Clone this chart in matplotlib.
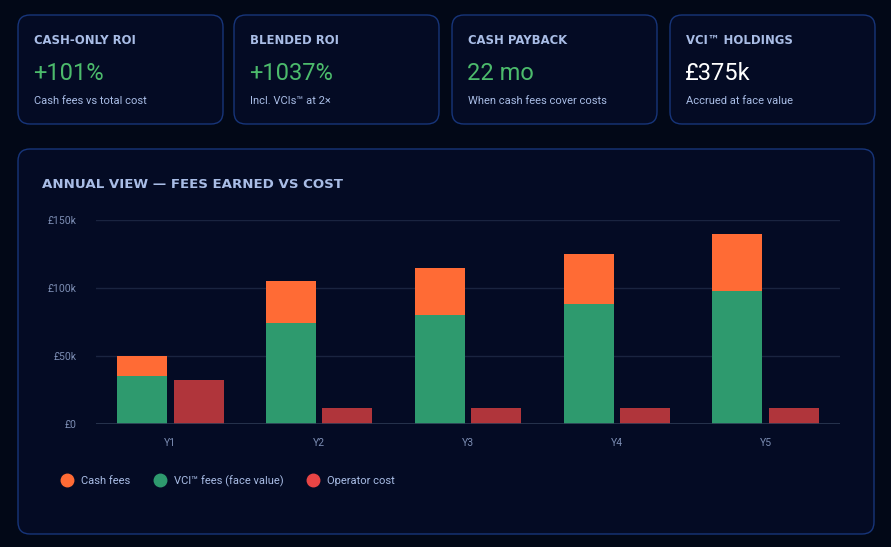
import matplotlib
matplotlib.use("Agg")
import matplotlib.pyplot as plt
from matplotlib.patches import FancyBboxPatch
from matplotlib.lines import Line2D
import numpy as np

# ---- data ----
years = ["Y1", "Y2", "Y3", "Y4", "Y5"]
cash_fees = [15, 31, 35, 37, 42]          # £k
vci_fees = [35, 74, 80, 88, 98]           # £k (face value)
operator_cost = [32, 12, 12, 12, 12]      # £k
ytick_vals = [0, 50, 100, 150]
ytick_labels = ["£0", "£50k", "£100k", "£150k"]

kpi_titles = ["CASH-ONLY ROI", "BLENDED ROI", "CASH PAYBACK", "VCI™ HOLDINGS"]
kpi_values = ["+101%", "+1037%", "22 mo", "£375k"]
kpi_subs = ["Cash fees vs total cost", "Incl. VCIs™ at 2×", "When cash fees cover costs", "Accrued at face value"]
kpi_value_colors = ["#4cbb6c", "#4cbb6c", "#4cbb6c", "#ffffff"]

legend_labels = ["Cash fees", "VCI™ fees (face value)", "Operator cost"]

# ---- styles ----
BG = "#020817"
CARD = "#040b24"
BORDER = "#17357a"
LABEL = "#a9bde6"
TICK = "#7c8db3"
C_CASH = "#ff6b35"
C_VCI = "#2e9a6e"
C_COST = "#b0353b"
C_COST_LEG = "#e84545"
FONT = ["Roboto", "DejaVu Sans"]
CAPS_FONT = ["DejaVu Sans"]
plt.rcParams["font.family"] = FONT

W, H = 891, 547
fig = plt.figure(figsize=(W / 100, H / 100), dpi=100, facecolor=BG)

# background axes in pixel coordinates
bg = fig.add_axes([0, 0, 1, 1], zorder=0)
bg.set_xlim(0, W)
bg.set_ylim(H, 0)
bg.axis("off")
bg.set_facecolor(BG)


def rbox(x0, y0, x1, y1, r=12):
    p = FancyBboxPatch((x0 + r, y0 + r), (x1 - x0) - 2 * r, (y1 - y0) - 2 * r,
                       boxstyle=f"round,pad={r}", facecolor=CARD, edgecolor=BORDER,
                       linewidth=1.0)
    bg.add_patch(p)


card_x = [18, 234, 452, 670]
card_w = 205
for i, x0 in enumerate(card_x):
    rbox(x0, 15, x0 + card_w, 124)
    bg.text(x0 + 16, 41, kpi_titles[i], color=LABEL, fontsize=8.4, fontweight="bold",
            family=CAPS_FONT, va="center", ha="left")
    bg.text(x0 + 15, 73, kpi_values[i], color=kpi_value_colors[i], fontsize=17,
            va="center", ha="left")
    bg.text(x0 + 16, 101, kpi_subs[i], color=LABEL, fontsize=8.0, va="center", ha="left")

# chart panel
rbox(18, 149, 874, 534)
bg.text(42, 184, "ANNUAL VIEW — FEES EARNED VS COST", color=LABEL, fontsize=9.65,
        fontweight="bold", family=CAPS_FONT, va="center", ha="left")

# chart axes
ax = fig.add_axes([96 / W, 1 - 424 / H, (840 - 96) / W, (424 - 220) / H], zorder=1)
ax.set_facecolor("none")
x = np.arange(len(years))
bw = 0.336
off = 0.19
ax.bar(x - off, vci_fees, bw, color=C_VCI, zorder=2)
ax.bar(x - off, cash_fees, bw, bottom=vci_fees, color=C_CASH, zorder=2)
ax.bar(x + off, operator_cost, bw, color=C_COST, zorder=2)

ax.set_xlim(-0.5, len(years) - 0.5)
ax.set_ylim(0, 150)
ax.set_yticks(ytick_vals)
ax.set_yticklabels(ytick_labels)
ax.set_xticks(x)
ax.set_xticklabels(years)
ax.tick_params(axis="both", length=0, colors=TICK, labelsize=7.5)
ax.tick_params(axis="y", pad=14)
ax.tick_params(axis="x", pad=10)
for s in ax.spines.values():
    s.set_visible(False)
ax.grid(axis="y", color="#1a2440", linewidth=1.0, zorder=0)
ax.axhline(0, color="#2c3852", linewidth=1.2, zorder=3)

handles = [Line2D([], [], marker="o", linestyle="none", markersize=9,
                  markerfacecolor=c, markeredgecolor=c)
           for c in (C_CASH, C_VCI, C_COST_LEG)]
fig.legend(handles, legend_labels, loc="center left",
           bbox_to_anchor=(53 / W, 1 - 481 / H), ncol=3, frameon=False,
           handlelength=0.8, handletextpad=0.85, columnspacing=2.25,
           labelcolor=LABEL, prop={"family": FONT, "size": 8.0})

fig.savefig("out.png", dpi=100, facecolor=BG)
